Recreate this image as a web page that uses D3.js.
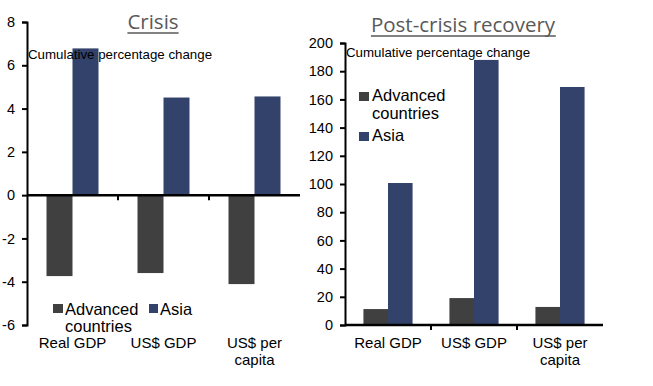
<!DOCTYPE html>
<html>
<head>
<meta charset="utf-8">
<script src="https://cdn.jsdelivr.net/npm/d3@7"></script>
<style>
  body { margin: 0; background: #fff; }
  text { font-family: "Liberation Sans", Arial, sans-serif; fill: #000; }
  .title { font-family: "Open Sans", sans-serif; fill: #595959; font-size: 20.5px; }
</style>
</head>
<body>
<svg id="chart" width="653" height="386"></svg>
<script>
// categories and series
var categories = ["Real GDP", "US$ GDP", "US$ per capita"];
var catLabels = [["Real GDP"], ["US$ GDP"], ["US$ per", "capita"]];
var seriesNames = ["Advanced countries", "Asia"];
var palette = ["#404040", "#33426A"];

// crisis values (cumulative % change)
var crisisAdvanced = [-3.74, -3.6, -4.11];
var crisisAsia = [6.78, 4.51, 4.56];
var crisisTicks = [-6, -4, -2, 0, 2, 4, 6, 8];

// post-crisis recovery values
var recoveryAdvanced = [11.3, 19.1, 12.8];
var recoveryAsia = [100.7, 188, 168.8];
var recoveryTicks = [0, 20, 40, 60, 80, 100, 120, 140, 160, 180, 200];

var svg = d3.select("#chart");

function panel(opts) {
    var g = svg.append("g");
    var x0 = d3.scaleBand()
        .domain(categories)
        .range([opts.left, opts.right])
        .paddingInner(0).paddingOuter(0);
    var x1 = d3.scaleBand()
        .domain(seriesNames)
        .range([0, x0.bandwidth()])
        .paddingInner(0).paddingOuter(0.75);
    var y = d3.scaleLinear()
        .domain(opts.domain)
        .range([opts.bottom, opts.top]);

    var rows = categories.map(function(c, i) {
        return {cat: c, vals: [opts.adv[i], opts.asia[i]]};
    });

    g.selectAll(".grp")
        .data(rows).enter()
        .append("g")
        .attr("transform", d => "translate(" + x0(d.cat) + ",0)")
        .selectAll("rect")
        .data(d => d.vals.map((v, k) => ({s: seriesNames[k], v: v, k: k})))
        .enter().append("rect")
        .attr("x", d => x1(d.s))
        .attr("width", x1.bandwidth())
        .attr("y", d => Math.min(y(d.v), y(0)))
        .attr("height", d => Math.abs(y(d.v) - y(0)))
        .style("fill", d => palette[d.k]);

    // y axis (plain hyphen for negatives, like the original)
    var yAxis = d3.axisLeft(y).tickValues(opts.ticks).tickSize(5).tickPadding(7)
        .tickFormat(d => String(d));
    var ya = g.append("g")
        .attr("transform", "translate(" + opts.left + ",0)")
        .call(yAxis);
    ya.select(".domain").attr("stroke-width", 2);
    ya.selectAll(".tick line").attr("stroke-width", 2);
    ya.selectAll("text").style("font-size", "14.5px").attr("fill", "#000");

    // x axis at zero
    var xa = g.append("g")
        .attr("transform", "translate(0," + y(0) + ")");
    xa.append("line")
        .attr("x1", opts.left).attr("x2", opts.right)
        .attr("stroke", "#000").attr("stroke-width", 2.5);
    xa.selectAll(".xt")
        .data(categories.slice(1)).enter()
        .append("line")
        .attr("x1", d => x0(d)).attr("x2", d => x0(d))
        .attr("y1", 0).attr("y2", 5)
        .attr("stroke", "#000").attr("stroke-width", 2);

    // category labels
    g.selectAll(".cl")
        .data(categories).enter()
        .append("text")
        .attr("text-anchor", "middle")
        .style("font-size", "15px")
        .attr("x", d => x0(d) + x0.bandwidth() / 2)
        .attr("y", 348)
        .selectAll("tspan")
        .data((d, i) => catLabels[i]).enter()
        .append("tspan")
        .attr("x", function() { return d3.select(this.parentNode).attr("x"); })
        .attr("dy", (d, i) => i ? 17 : 0)
        .text(d => d);

    // title
    var t = g.append("text")
        .attr("class", "title")
        .attr("text-anchor", "middle")
        .attr("x", opts.titleX).attr("y", opts.titleY)
        .text(opts.title);
    var bb = t.node().getBBox();
    g.append("line")
        .attr("x1", bb.x).attr("x2", bb.x + bb.width)
        .attr("y1", opts.titleY + 4).attr("y2", opts.titleY + 4)
        .attr("stroke", "#595959").attr("stroke-width", 1.5);

    g.append("text")
        .attr("x", opts.left + 1).attr("y", opts.noteY)
        .style("font-size", "13.3px")
        .text("Cumulative percentage change");

    return g;
}

var left = panel({
    left: 27, right: 300, top: 22, bottom: 325,
    domain: [-6, 8], ticks: crisisTicks,
    adv: crisisAdvanced, asia: crisisAsia,
    title: "Crisis", titleX: 153, titleY: 29, noteY: 59
});

var right = panel({
    left: 345, right: 603, top: 43, bottom: 325,
    domain: [0, 200], ticks: recoveryTicks,
    adv: recoveryAdvanced, asia: recoveryAsia,
    title: "Post-crisis recovery", titleX: 463, titleY: 32, noteY: 57
});

// legend, crisis panel (horizontal)
var lg1 = left.append("g");
lg1.append("rect").attr("x", 53).attr("y", 304).attr("width", 10).attr("height", 9).style("fill", palette[0]);
lg1.append("text").attr("x", 65).attr("y", 315).style("font-size", "16.5px")
    .selectAll("tspan").data(["Advanced", "countries"]).enter()
    .append("tspan").attr("x", 65).attr("dy", (d, i) => i ? 17 : 0).text(d => d);
lg1.append("rect").attr("x", 149).attr("y", 304).attr("width", 9).attr("height", 9).style("fill", palette[1]);
lg1.append("text").attr("x", 160).attr("y", 315).style("font-size", "16.5px").text("Asia");

// legend, recovery panel (vertical)
var lg2 = right.append("g");
lg2.append("rect").attr("x", 359).attr("y", 92).attr("width", 10).attr("height", 9).style("fill", palette[0]);
lg2.append("text").attr("x", 372).attr("y", 101).style("font-size", "16.5px")
    .selectAll("tspan").data(["Advanced", "countries"]).enter()
    .append("tspan").attr("x", 372).attr("dy", (d, i) => i ? 18 : 0).text(d => d);
lg2.append("rect").attr("x", 359).attr("y", 132).attr("width", 10).attr("height", 9).style("fill", palette[1]);
lg2.append("text").attr("x", 372).attr("y", 141).style("font-size", "16.5px").text("Asia");
</script>
</body>
</html>
